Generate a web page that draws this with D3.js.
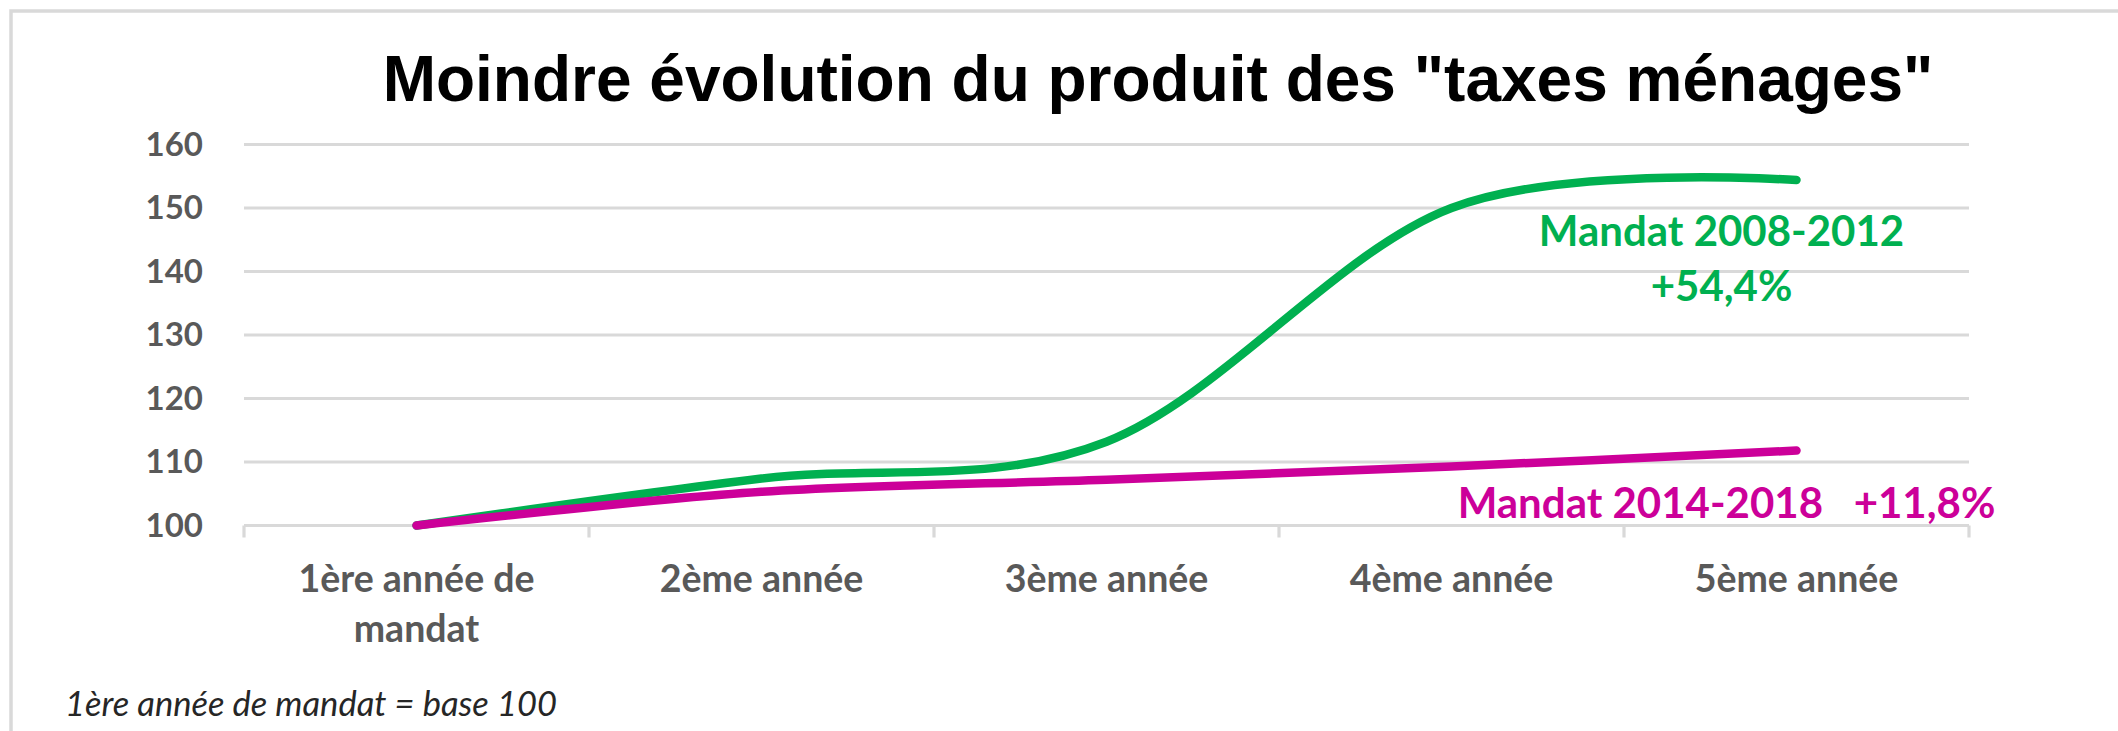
<!DOCTYPE html>
<html><head><meta charset="utf-8">
<script src="https://cdn.jsdelivr.net/npm/d3@7"></script>
<style>body{margin:0;background:#fff} svg{display:block}</style>
</head><body>
<script>
const categories = ["1ère année de mandat", "2ème année", "3ème année", "4ème année", "5ème année"];
const mandat2008 = [100, 107.4, 113.2, 150.0, 154.4];
const mandat2014 = [100, 105.3, 107.2, 109.3, 111.8];
const yTicks = [100, 110, 120, 130, 140, 150, 160];
const titleText = 'Moindre évolution du produit des "taxes ménages"';
const label2008 = ["Mandat 2008-2012", "+54,4%"];
const label2014 = "Mandat 2014-2018   +11,8%";
const footnote = "1ère année de mandat = base 100";

const W = 2118, H = 731;
const GREEN = "#00B050", MAGENTA = "#CC0099", GRID = "#D9D9D9", TXT = "#595959";
const LBL = "Lato, 'Open Sans', sans-serif";

const svg = d3.select("body").append("svg").attr("width", W).attr("height", H);

// chart border (top + left visible)
svg.append("path").attr("d", `M11,${H} L11,11 L${W},11`)
  .attr("fill", "none").attr("stroke", GRID).attr("stroke-width", 3.5);

const x = d3.scaleBand().domain(categories).range([244, 1969]);
const xc = c => x(c) + x.bandwidth() / 2;
const y = d3.scaleLinear().domain([100, 160]).range([525.5, 144.5]);

// gridlines
svg.append("g").selectAll("line").data(yTicks).join("line")
  .attr("x1", 244).attr("x2", 1969)
  .attr("y1", d => y(d)).attr("y2", d => y(d))
  .attr("stroke", GRID).attr("stroke-width", 3.2);

// category tick marks
const bounds = categories.map(c => x(c)).concat([x.range()[1]]);
svg.append("g").selectAll("line").data(bounds).join("line")
  .attr("x1", d => d).attr("x2", d => d)
  .attr("y1", y(100)).attr("y2", y(100) + 12)
  .attr("stroke", GRID).attr("stroke-width", 3.2);

// y axis labels
const yAxis = svg.append("g").attr("transform", "translate(203,0)")
  .call(d3.axisLeft(y).tickValues(yTicks).tickSize(0).tickPadding(0));
yAxis.select(".domain").remove();
yAxis.selectAll("text").attr("font-family", LBL).attr("font-weight", 700)
  .attr("font-size", 33).attr("fill", TXT);

// x axis labels (wrapped to band width)
const xl = svg.append("g");
categories.forEach(c => {
  const t = xl.append("text").attr("x", xc(c)).attr("y", 592)
    .attr("text-anchor", "middle").attr("font-family", LBL).attr("font-weight", 700)
    .attr("font-size", 37.5).attr("fill", TXT);
  const words = c.split(" ");
  let line = [], ts = t.append("tspan").attr("x", xc(c));
  words.forEach(w => {
    line.push(w);
    ts.text(line.join(" "));
    if (ts.node().getComputedTextLength() > x.bandwidth() - 20 && line.length > 1) {
      line.pop(); ts.text(line.join(" "));
      line = [w];
      ts = t.append("tspan").attr("x", xc(c)).attr("dy", 50).text(w);
    }
  });
});

// lines
const line = d3.line()
  .x((d, i) => xc(categories[i]))
  .y(d => y(d))
  .curve(d3.curveCardinal.tension(0));
svg.append("path").datum(mandat2008).attr("d", line)
  .attr("fill", "none").attr("stroke", GREEN).attr("stroke-width", 8.5)
  .attr("stroke-linecap", "round").attr("stroke-linejoin", "round");
svg.append("path").datum(mandat2014).attr("d", line)
  .attr("fill", "none").attr("stroke", MAGENTA).attr("stroke-width", 8.5)
  .attr("stroke-linecap", "round").attr("stroke-linejoin", "round");

// series labels
const lastC = categories[categories.length - 1];
const g8 = svg.append("text").attr("text-anchor", "middle")
  .attr("font-family", LBL).attr("font-weight", 700).attr("font-size", 42).attr("fill", GREEN);
g8.append("tspan").attr("x", xc(lastC) - 75).attr("y", y(mandat2008[4]) + 66).text(label2008[0]);
g8.append("tspan").attr("x", xc(lastC) - 75).attr("y", y(mandat2008[4]) + 121).text(label2008[1]);

svg.append("text").attr("text-anchor", "middle").style("white-space", "pre")
  .attr("x", xc(lastC) - 70).attr("y", y(mandat2014[4]) + 67)
  .attr("font-family", LBL).attr("font-weight", 700).attr("font-size", 42).attr("fill", MAGENTA)
  .text(label2014);

// title
svg.append("text").attr("x", 1158).attr("y", 101).attr("text-anchor", "middle")
  .attr("font-family", "'Liberation Sans', Arial, sans-serif").attr("font-weight", 700)
  .attr("font-size", 64).attr("fill", "#000").text(titleText);

// footnote
svg.append("text").attr("x", 65).attr("y", 716)
  .attr("font-family", LBL).attr("font-style", "italic").attr("font-size", 34.5)
  .attr("fill", "#262626").text(footnote);
</script>
</body></html>
